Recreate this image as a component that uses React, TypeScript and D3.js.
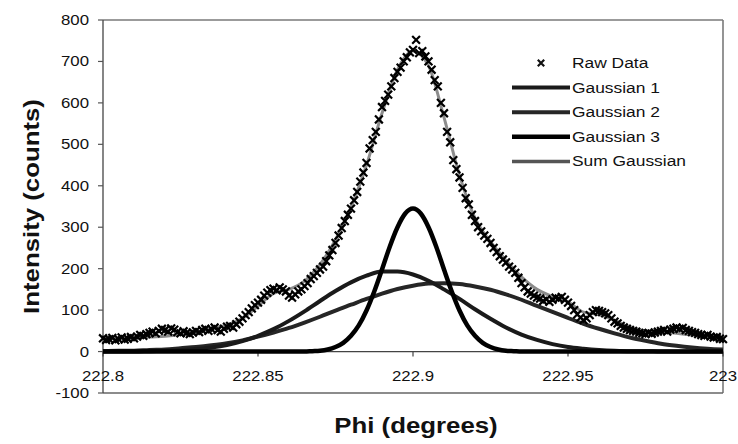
import React from 'react';
import * as d3 from 'd3';

const W = 738;
const H = 444;

// Raw data: phi from 222.800 to 223.000 in steps of 0.001
const rawStart = 222.8;
const rawStep = 0.001;
const rawIntensity = [
  32, 28, 30, 33, 27, 30, 34, 29, 31, 35,
  32, 36, 40, 38, 42, 45, 48, 44, 50, 55,
  52, 48, 56, 53, 47, 44, 49, 45, 42, 46,
  50, 47, 52, 55, 50, 54, 58, 52, 48, 55,
  60, 62, 58, 66, 72, 80, 88, 95, 104, 112,
  118, 125, 135, 142, 148, 152, 148, 155, 150, 145,
  135, 130, 138, 145, 150, 158, 165, 175, 182, 190,
  198, 205, 218, 232, 245, 262, 280, 298, 315, 330,
  345, 365, 385, 410, 432,
  455, 490, 510, 530, 560, 590, 605, 620, 640, 660, 675, 685, 700, 710, 722,
  728, 752, 720, 725, 712, 700, 680, 655, 640, 600,
  575, 530, 505, 462, 440, 420, 395, 370, 355, 330,
  315, 300, 290, 280, 272, 262, 250, 240, 230, 222,
  215, 205, 198, 190, 178, 165, 155, 145, 140, 135,
  130, 128, 122, 126, 120, 125, 130, 128, 132, 125,
  118, 110, 100, 90, 82, 76, 80, 88, 95, 100,
  98, 95, 92, 88, 80, 72, 68, 62, 58, 55,
  52, 50, 48, 45, 44, 42, 45, 43, 46, 48,
  50, 52, 48, 53, 55, 58, 55, 57, 52, 50,
  47, 45, 42, 40, 38, 40, 36, 34, 35, 31, 30,
];

// Broad gaussians and sum: phi from 222.800 to 223.000 in steps of 0.005
const gaussStart = 222.8;
const gaussStep = 0.005;
const gaussian1 = [
  0, 0, 0, 1, 2, 3, 6, 10, 16, 25,
  38, 54, 74, 97, 122, 146, 167, 183, 193, 193,
  186, 171, 150, 127, 102, 79, 58, 41, 28, 18,
  11, 7, 4, 2, 1, 1, 0, 0, 0, 0, 0,
];
const gaussian2 = [
  1, 2, 2, 4, 5, 8, 11, 15, 20, 27,
  36, 46, 57, 70, 84, 99, 113, 127, 140, 151,
  159, 164, 165, 163, 157, 149, 138, 125, 110, 96,
  81, 67, 55, 44, 34, 26, 19, 14, 10, 7, 5,
];
const sumGaussian = [
  31, 32, 32, 35, 37, 41, 47, 55, 64, 80,
  110, 140, 150, 170, 210, 270, 348, 450, 575, 680,
  725, 690, 565, 425, 322, 265, 220, 180, 150, 133,
  120, 95, 89, 76, 58, 50, 49, 44, 40, 37, 33,
];

// Narrow gaussian: phi from 222.860 to 222.940 in steps of 0.0025 (zero elsewhere)
const g3Start = 222.86;
const g3Step = 0.0025;
const gaussian3 = [
  0, 0, 0, 1, 2, 5, 11, 21, 38, 63,
  99, 145, 198, 253, 300, 333, 345, 333, 300, 253,
  198, 145, 99, 63, 38, 21, 11, 5, 2, 1,
  0, 0, 0,
];

const xDomain = [222.8, 223.0];
const yDomain = [-100, 800];
const xTicks = [222.8, 222.85, 222.9, 222.95, 223.0];
const xTickLabels = ['222.8', '222.85', '222.9', '222.95', '223'];
const yTicks = [-100, 0, 100, 200, 300, 400, 500, 600, 700, 800];
const legendLabels = ['Raw Data', 'Gaussian 1', 'Gaussian 2', 'Gaussian 3', 'Sum Gaussian'];
const xTitle = 'Phi (degrees)';
const yTitle = 'Intensity (counts)';

const FONT = "'Liberation Sans', Arial, Helvetica, sans-serif";
const STRETCH = 1.2;

type STextProps = {
  x: number;
  y: number;
  anchor?: 'start' | 'middle' | 'end';
  size: number;
  weight?: string | number;
  rotate?: number;
  fill?: string;
  children: React.ReactNode;
};

function SText({ x, y, anchor = 'start', size, weight = 'normal', rotate, fill = '#111', children }: STextProps) {
  const t = `translate(${x},${y})${rotate ? ` rotate(${rotate})` : ''} scale(${STRETCH},1)`;
  return (
    <text
      transform={t}
      textAnchor={anchor}
      dominantBaseline="central"
      fontSize={size}
      fontWeight={weight}
      fontFamily={FONT}
      fill={fill}
    >
      {children}
    </text>
  );
}

export default function App() {
  const margin = { left: 103, right: 15, top: 20, bottom: 51 };
  const x = d3.scaleLinear().domain(xDomain).range([margin.left, W - margin.right]);
  const y = d3.scaleLinear().domain(yDomain).range([H - margin.bottom, margin.top]);

  const rawPts = rawIntensity.map((v, i) => ({ phi: rawStart + i * rawStep, v }));
  const g1Pts = gaussian1.map((v, i) => ({ phi: gaussStart + i * gaussStep, v }));
  const g2Pts = gaussian2.map((v, i) => ({ phi: gaussStart + i * gaussStep, v }));
  const sumPts = sumGaussian.map((v, i) => ({ phi: gaussStart + i * gaussStep, v }));
  const g3Pts = [
    { phi: xDomain[0], v: 0 },
    ...gaussian3.map((v, i) => ({ phi: g3Start + i * g3Step, v })),
    { phi: xDomain[1], v: 0 },
  ];

  const line = d3
    .line<{ phi: number; v: number }>()
    .x((d) => x(d.phi))
    .y((d) => y(d.v))
    .curve(d3.curveMonotoneX);

  const x0 = x.range()[0];
  const x1 = x.range()[1];
  const yTop = y.range()[1];
  const yBot = y.range()[0];
  const yZero = y(0);

  const ms = 3.9; // marker half size
  const markerPath = (cx: number, cy: number, s: number) =>
    `M${cx - s},${cy - s}L${cx + s},${cy + s}M${cx - s},${cy + s}L${cx + s},${cy - s}`;

  const legendTop = 63;
  const legendStep = 24.6;
  const legendLineX0 = 512;
  const legendLineX1 = 570;
  const legendTextX = 572;
  const legendStyles = [
    null,
    { stroke: '#1a1a1a', width: 4 },
    { stroke: '#262626', width: 4 },
    { stroke: '#000', width: 4.5 },
    { stroke: '#555', width: 3.5 },
  ];

  return (
    <svg
      width={W}
      height={H}
      style={{ position: 'absolute', left: 0, top: 0, display: 'block', background: '#fff' }}
    >
      <rect x={0} y={0} width={W} height={H} fill="#fff" />

      {/* frame */}
      <line x1={x0} y1={yTop} x2={x1} y2={yTop} stroke="#7a7a7a" strokeWidth={1.6} />
      <line x1={x1} y1={yTop} x2={x1} y2={yBot} stroke="#7a7a7a" strokeWidth={1.6} />
      <line x1={x0} y1={yBot} x2={x1} y2={yBot} stroke="#666" strokeWidth={1.4} />

      {/* y axis */}
      <line x1={x0} y1={yTop} x2={x0} y2={yBot} stroke="#444" strokeWidth={1.3} />
      {yTicks.map((t) => (
        <g key={`yt${t}`}>
          <line x1={x0 - 5} y1={y(t)} x2={x0} y2={y(t)} stroke="#555" strokeWidth={1.2} />
          <SText x={x0 - 14} y={y(t)} anchor="end" size={14}>
            {String(t)}
          </SText>
        </g>
      ))}

      {/* x axis at y = 0 */}
      <line x1={x0} y1={yZero} x2={x1} y2={yZero} stroke="#444" strokeWidth={1.3} />
      {xTicks.map((t, i) => (
        <g key={`xt${t}`}>
          <line x1={x(t)} y1={yZero} x2={x(t)} y2={yZero + 5} stroke="#444" strokeWidth={1.2} />
          <SText x={x(t)} y={yZero + 24} anchor="middle" size={14}>
            {xTickLabels[i]}
          </SText>
        </g>
      ))}

      {/* fitted curves */}
      <path d={line(g2Pts) || ''} fill="none" stroke="#262626" strokeWidth={4} strokeLinejoin="round" />
      <path d={line(g1Pts) || ''} fill="none" stroke="#1a1a1a" strokeWidth={4} strokeLinejoin="round" />
      <path d={line(g3Pts) || ''} fill="none" stroke="#000" strokeWidth={4.5} strokeLinejoin="round" />
      <path d={line(sumPts) || ''} fill="none" stroke="#8c8c8c" strokeWidth={3} strokeLinejoin="round" />

      {/* raw data markers */}
      <g stroke="#000" strokeWidth={2.2} fill="none">
        {rawPts.map((d, i) => (
          <path key={`r${i}`} d={markerPath(x(d.phi), y(d.v), ms)} />
        ))}
      </g>

      {/* legend */}
      {legendLabels.map((lab, i) => {
        const ly = legendTop + i * legendStep;
        const st = legendStyles[i];
        return (
          <g key={`lg${i}`}>
            {st ? (
              <line x1={legendLineX0} y1={ly} x2={legendLineX1} y2={ly} stroke={st.stroke} strokeWidth={st.width} />
            ) : (
              <path d={markerPath(541, ly, 3.2)} stroke="#111" strokeWidth={2.2} fill="none" />
            )}
            <SText x={legendTextX} y={ly} anchor="start" size={14.5}>
              {lab}
            </SText>
          </g>
        );
      })}

      {/* axis titles */}
      <SText x={(x0 + x1) / 2 + 3} y={426} anchor="middle" size={21.5} weight="bold">
        {xTitle}
      </SText>
      <SText x={32} y={(yTop + yBot) / 2} anchor="middle" size={21.5} weight="bold" rotate={-90}>
        {yTitle}
      </SText>
    </svg>
  );
}
